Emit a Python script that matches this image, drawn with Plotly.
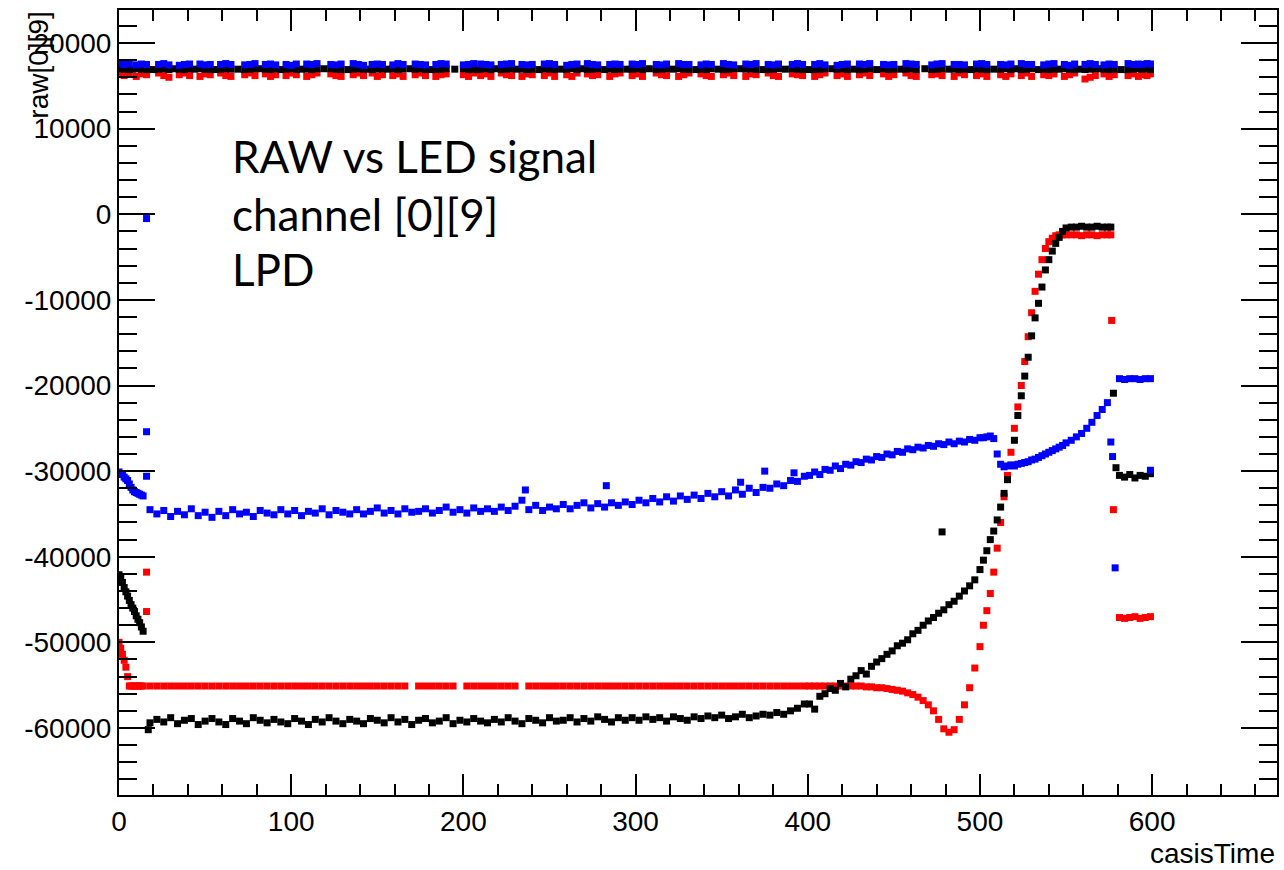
import plotly.graph_objects as go

# ---------------- data ----------------
# LED-pulse "high" band: time stamps shared by the three series (3 per pulse)
time_top = [0, 3, 6, 10, 13, 16, 23, 26, 29, 35, 38, 41, 47, 50, 53, 59, 62, 65, 73, 76, 79, 85, 88, 91,
            97, 100, 103, 109, 112, 115, 123, 126, 129, 136, 139, 142, 147, 150, 153, 159, 162, 165, 172, 175, 178, 184, 187, 190,
            200, 203, 206, 210, 213, 216, 222, 225, 228, 234, 237, 240, 247, 250, 253, 260, 263, 266, 272, 275, 278, 285, 288, 291,
            298, 301, 304, 312, 315, 318, 325, 328, 331, 338, 341, 344, 351, 354, 357, 364, 367, 370, 377, 380, 383, 391, 394, 397,
            404, 407, 410, 417, 420, 423, 430, 433, 436, 444, 447, 450, 457, 460, 463, 472, 475, 478, 485, 488, 491, 498, 501, 504,
            512, 515, 518, 524, 527, 530, 537, 540, 543, 549, 552, 555, 561, 564, 567, 572, 575, 578, 586, 589, 592, 594, 597, 599]
blue_top = [17600, 17500, 17550, 17450, 17550, 17500, 17500, 17600, 17450, 17400, 17500, 17550, 17550, 17450, 17500, 17500, 17600, 17500, 17450, 17500, 17600, 17500, 17550, 17450,
            17500, 17400, 17550, 17550, 17500, 17600, 17500, 17450, 17550, 17600, 17500, 17400, 17500, 17550, 17500, 17450, 17600, 17500, 17550, 17500, 17450, 17500, 17600, 17550,
            17450, 17500, 17600, 17550, 17500, 17450, 17500, 17550, 17600, 17500, 17450, 17500, 17550, 17600, 17500, 17400, 17500, 17550, 17600, 17500, 17450, 17500, 17550, 17500,
            17550, 17500, 17600, 17500, 17450, 17550, 17600, 17500, 17500, 17450, 17550, 17500, 17600, 17500, 17450, 17550, 17500, 17600, 17500, 17450, 17550, 17500, 17600, 17500,
            17500, 17600, 17450, 17400, 17500, 17550, 17550, 17500, 17600, 17500, 17450, 17500, 17600, 17550, 17500, 17450, 17550, 17600, 17500, 17500, 17450, 17550, 17600, 17500,
            17500, 17450, 17550, 17600, 17500, 17500, 17450, 17550, 17600, 17500, 17400, 17550, 17500, 17600, 17500, 17450, 17550, 17500, 17600, 17500, 17550, 17500, 17600, 17550]
black_top = [17000, 16950, 16900, 17000, 16950, 16900, 16950, 17000, 16900, 16950, 16900, 17000, 17000, 16950, 16900, 16950, 17000, 16950, 16900, 16950, 17000, 16950, 16900, 17000,
             16950, 17000, 16900, 16950, 16900, 17000, 17000, 16950, 16900, 16950, 17000, 16950, 16900, 16950, 17000, 17000, 16900, 16950, 16950, 17000, 16900, 16900, 16950, 17000,
             17000, 16900, 16950, 16950, 17000, 16900, 16900, 16950, 17000, 16950, 16900, 16950, 17000, 16950, 16900, 16950, 17000, 16900, 16900, 16950, 17000, 16950, 16900, 16950,
             16950, 17000, 16900, 16900, 16950, 17000, 17000, 16950, 16900, 16950, 16900, 17000, 16900, 16950, 17000, 16950, 17000, 16900, 16900, 16950, 17000, 17000, 16950, 16900,
             16900, 16950, 17000, 16950, 17000, 16900, 16900, 16950, 17000, 17000, 16900, 16950, 16950, 17000, 16900, 16900, 16950, 17000, 16950, 16900, 16950, 17000, 16950, 16900,
             16950, 17000, 16900, 16900, 16950, 17000, 16950, 16900, 16950, 17000, 16950, 16900, 16900, 16950, 17000, 16950, 16900, 16950, 16900, 16950, 17000, 16950, 17000, 16900]
red_top = [16400, 16200, 16500, 16100, 16400, 16300, 16500, 16200, 16000, 16300, 16500, 16200, 16100, 16400, 16300, 16500, 16200, 16100, 16300, 16500, 16200, 16400, 16100, 16300,
           16200, 16500, 16300, 16100, 16300, 16500, 16400, 16200, 16100, 16300, 16500, 16200, 16500, 16100, 16300, 16200, 16400, 16100, 16300, 16500, 16200, 16100, 16300, 16400,
           16300, 16100, 16500, 16200, 16400, 16100, 16500, 16300, 16200, 16100, 16400, 16300, 16200, 16500, 16100, 16300, 16100, 16500, 16400, 16200, 16300, 16100, 16400, 16500,
           16200, 16400, 16100, 16500, 16300, 16200, 16100, 16300, 16500, 16400, 16200, 16100, 16300, 16500, 16200, 16100, 16400, 16300, 16500, 16200, 16100, 16400, 16300, 16200,
           16100, 16300, 16500, 16200, 16400, 16100, 16300, 16500, 16200, 16400, 16100, 16300, 16500, 16200, 16100, 16300, 16400, 16200, 16100, 16500, 16300, 16200, 16400, 16100,
           16300, 16100, 16400, 16200, 16500, 16100, 16300, 16200, 16400, 16100, 16300, 16500, 15800, 16000, 16200, 16400, 16100, 16300, 16200, 16400, 16100, 16300, 16200, 16400]
# black high-state points that fill the gaps between pulses
black_gap_t = [8, 20, 32, 44, 56, 69, 82, 94, 106, 119,
               133, 145, 156, 169, 181, 195, 208, 219, 231, 244,
               257, 269, 282, 295, 308, 322, 335, 348, 361, 374,
               387, 401, 414, 427, 440, 454, 468, 482, 495, 508,
               521, 534, 546, 558, 570, 582]
black_gap_v = [16950, 16900, 17000, 16950, 16900, 16950, 17000, 16900, 16950, 17000,
               16900, 16950, 16950, 17000, 16900, 16950, 16900, 17000, 16950, 16900,
               16950, 17000, 16900, 16950, 17000, 16950, 16900, 16950, 17000, 16900,
               16950, 16900, 17000, 16950, 16900, 16950, 17000, 16950, 16900, 16950,
               17000, 16900, 16950, 16950, 17000, 16900]

# "low" state curves: time stamps shared by the three series
time_low = [0, 1, 2, 3, 4, 5, 6, 7, 8, 9, 10, 11, 12, 13, 14,
            18, 22, 26, 30, 34, 38, 42, 46, 50, 54,
            58, 62, 66, 70, 74, 78, 82, 86, 90, 94,
            98, 102, 106, 110, 114, 118, 122, 126, 130, 134,
            138, 142, 146, 150, 154, 158, 162, 166, 170, 174,
            178, 182, 186, 190, 194, 198, 202, 206, 210, 214,
            218, 222, 226, 230, 234, 238, 242, 246, 250, 254,
            258, 262, 266, 270, 274, 278, 282, 286, 290, 294,
            298, 302, 306, 310, 314, 318, 322, 326, 330, 334,
            338, 342, 346, 350, 354, 358, 362, 366, 370, 374,
            378, 382, 386, 390, 394, 398,
            401, 404, 407, 410, 413, 416, 419, 422, 425, 428,
            431, 434, 437, 440, 443, 446, 449, 452, 455, 458,
            461, 464, 467, 470, 473, 476, 479, 482, 485, 488,
            491, 494, 497, 500,
            502, 504, 506, 508, 510, 512, 514, 516, 518, 520,
            522, 524, 526, 528, 530, 532, 534, 536, 538, 540,
            542, 544, 546, 548, 550,
            553, 556, 559, 562, 565, 568, 571, 574,
            581, 584, 587, 590, 593, 596, 599]
black_low = [-42100, -42500, -43000, -43600, -44100, -44600, -45100, -45600, -46000, -46400, -46900, -47300, -47700, -48200, -48700,
             -59400, -59000, -59300, -58800, -59500, -59100, -58900, -59600, -59200, -58900,
             -59300, -59600, -58900, -59200, -59500, -58800, -59100, -59400, -59000, -59300,
             -59500, -58900, -59200, -59600, -59000, -59300, -58800, -59200, -59500, -59000,
             -59200, -59500, -58900, -59100, -59400, -58800, -59300, -59000, -59600, -59100,
             -58900, -59400, -59200, -58800, -59500, -59100, -59300, -58900, -59200, -59400,
             -59000, -59300, -58800, -59200, -59500, -58900, -59100, -59400, -58800, -59200,
             -59100, -58800, -59300, -58900, -59200, -58700, -59000, -59300, -58800, -59100,
             -58800, -59100, -58700, -59000, -58800, -59200, -58700, -58900, -59100, -58700,
             -58900, -58600, -58800, -58500, -58900, -58700, -58400, -58800, -58600, -58400,
             -58500, -58200, -58400, -58000, -57700, -57200,
             -57200, -57800, -56300, -56000, -55400, -55600, -54800, -55200, -54300, -53900,
             -53300, -53700, -52800, -52300, -51900, -51400, -51000, -50400, -50100, -49700,
             -49000, -48600, -48000, -47500, -47100, -46600, -46200, -45600, -45200, -44600,
             -44000, -43400, -42700, -41500,
             -40400, -39300, -38000, -37000, -35700, -34200, -32600, -31000, -29300, -26400,
             -23500, -21200, -18900, -16700, -14200, -12100, -10400, -8500, -6500, -5300,
             -4300, -3400, -2700, -2000, -1600,
             -1500, -1500, -1400, -1500, -1500, -1400, -1500, -1500,
             -30500, -30700, -30400, -30800, -30500, -30600, -30300]
red_low = [-50000, -50700, -51400, -52100, -52900, -54000, -55100, -55100, -55100, -55100, -55100, -55100, -55100, -55100, -55100,
           -55100, -55100, -55100, -55100, -55100, -55100, -55100, -55100, -55100, -55100,
           -55100, -55100, -55100, -55100, -55100, -55100, -55100, -55100, -55100, -55100,
           -55100, -55100, -55100, -55100, -55100, -55100, -55100, -55100, -55100, -55100,
           -55100, -55100, -55100, -55100, -55100, -55100, -55100, -55100, None, -55100,
           -55100, -55100, -55100, -55100, -55100, None, -55100, -55100, -55100, -55100,
           -55100, -55100, -55100, -55100, None, -55100, -55100, -55100, -55100, -55100,
           -55100, -55100, -55100, -55100, -55100, -55100, -55100, -55100, -55100, -55100,
           -55100, -55100, -55100, -55100, -55100, -55100, -55100, -55100, -55100, -55100,
           -55100, -55100, -55100, -55100, -55100, -55100, -55100, -55100, -55100, -55100,
           -55100, -55100, -55100, -55100, -55100, -55100,
           -55100, -55100, -55100, -55100, -55100, -55100, -55100, -55100, -55100, -55100,
           -55100, -55200, -55200, -55300, -55300, -55400, -55500, -55600, -55700, -55900,
           -56100, -56400, -56800, -57300, -58000, -59000, -60100, -60500, -60200, -59000,
           -57300, -55300, -53000, -50500,
           -48000, -46300, -44300, -41800, -39000, -36000, -33000, -30500, -27800, -25000,
           -22500, -20000, -17200, -14300, -11500, -9000, -7000, -5300, -4000, -3200,
           -2800, -2500, -2400, -2400, -2400,
           -2400, -2400, -2500, -2400, -2400, -2500, -2400, -2400,
           -47100, -47200, -47100, -47000, -47200, -47100, -47000]
blue_low = [-30100, -30300, -30400, -30700, -30900, -31100, -31500, -31900, -32200, -32400, -32500, -32600, -32700, -32800, -32900,
            -34500, -35000, -34600, -35300, -34700, -35100, -34400, -35200, -34800, -35400,
            -34700, -35200, -34500, -35000, -34800, -35300, -34600, -34900, -35100, -34500,
            -35000, -34600, -35200, -34700, -34900, -34400, -35100, -34600, -34800, -35000,
            -34500, -35000, -34700, -34300, -34900, -34600, -35000, -34400, -34800, -34700,
            -34400, -34900, -34600, -34200, -34800, -34500, -34900, -34300, -34700, -34400,
            -34700, -34200, -34600, -34100, -33400, -34500, -34000, -34600, -34200, -34400,
            -33900, -34400, -34000, -33700, -34300, -33800, -34200, -33700, -34000, -33600,
            -33900, -33400, -33700, -33200, -33600, -33000, -33500, -32900, -33300, -32800,
            -33200, -32600, -33000, -32400, -32900, -32200, -32700, -32000, -32500, -31900,
            -32000, -31500, -31700, -31100, -31200, -30600,
            -30500, -30100, -30400, -29800, -29900, -29400, -29700, -29200, -29300, -28900,
            -29000, -28600, -28700, -28300, -28400, -28000, -28100, -27700, -27800, -27400,
            -27500, -27200, -27300, -27000, -27100, -26800, -26900, -26600, -26800, -26500,
            -26600, -26300, -26400, -26100,
            -26100, -26000, -25900, -26200, -28000, -29200, -29500, -29400, -29300, -29400,
            -29200, -29100, -29000, -28900, -28700, -28600, -28400, -28200, -28000, -27800,
            -27600, -27400, -27200, -27000, -26700,
            -26400, -26000, -25600, -25000, -24300, -23500, -22800, -22000,
            -19200, -19300, -19200, -19200, -19300, -19200, -19200]

# isolated points / transitions
black_extra_t = [17, 478, 576, 577.5, 579] + black_gap_t
black_extra_v = [-60200, -37100, -1500, -20900, -29600] + black_gap_v
red_extra_t = [16, 16, 576, 576.5, 577.5]
red_extra_v = [-41800, -46400, -2400, -12400, -34500]
blue_extra_t = [16, 16, 16, 236, 283, 361, 375, 392, 576, 577, 578.5, 599]
blue_extra_v = [-500, -25400, -30600, -32200, -31700, -31300, -30000, -30200, -26600, -28300, -41300, -29900]

x_tick_vals = [0, 100, 200, 300, 400, 500, 600]
x_tick_text = ["0", "100", "200", "300", "400", "500", "600"]
y_tick_vals = [-60000, -50000, -40000, -30000, -20000, -10000, 0, 10000, 20000]
y_tick_text = ["-60000", "-50000", "-40000", "-30000", "-20000", "-10000", "0", "10000", "20000"]

legend_lines = ["RAW vs LED signal", "channel [0][9]", "LPD"]

# ---------------- figure ----------------
W, H = 1284, 870
ML, MR, MT, MB = 119, 5, 10, 75
PW, PH = W - ML - MR, H - MT - MB


def px_x(p):
    return (p - ML) / PW


def px_y(p):
    return (H - MB - p) / PH


series = [
    ("#ff0000", red_top, red_low, red_extra_t, red_extra_v),
    ("#000000", black_top, black_low, black_extra_t, black_extra_v),
    ("#0000ff", blue_top, blue_low, blue_extra_t, blue_extra_v),
]

fig = go.Figure()
for color, top_v, low_v, ex_t, ex_v in series:
    fig.add_trace(go.Scatter(
        x=time_low + time_top + ex_t,
        y=low_v + top_v + ex_v,
        mode="markers",
        marker=dict(symbol="square", size=7, color=color, line=dict(width=0)),
        hoverinfo="skip",
    ))

axis_common = dict(
    ticks="inside", tickcolor="black", tickwidth=1.5,
    showline=True, linecolor="black", linewidth=2, mirror="allticks",
    showgrid=False, zeroline=False, tickmode="array",
    tickfont=dict(family="Liberation Sans", size=28, color="black"),
)
fig.update_xaxes(range=[0, 672.5], tickvals=x_tick_vals, ticktext=x_tick_text, ticklen=21,
                 minor=dict(ticks="inside", ticklen=11, tickwidth=1.5, tickcolor="black",
                            tickmode="linear", tick0=0, dtick=20, showgrid=False),
                 **axis_common)
fig.update_yaxes(range=[-67830, 23860], tickvals=y_tick_vals, ticktext=y_tick_text, ticklen=36,
                 minor=dict(ticks="inside", ticklen=18, tickwidth=1.5, tickcolor="black",
                            tickmode="linear", tick0=0, dtick=2000, showgrid=False),
                 **axis_common)

annotations = [
    dict(text="casisTime", xref="paper", yref="paper", x=1.0, y=px_y(853),
         xanchor="right", yanchor="middle", showarrow=False,
         font=dict(family="Liberation Sans", size=28, color="black")),
    dict(text="raw[0][9]", xref="paper", yref="paper", x=px_x(38), y=1.0,
         xanchor="center", yanchor="top", textangle=-90, showarrow=False,
         font=dict(family="Liberation Sans", size=28, color="black")),
]
for line, py in zip(legend_lines, [156, 214, 269]):
    annotations.append(dict(text=line, xref="paper", yref="paper", x=px_x(230), y=px_y(py),
                            xanchor="left", yanchor="middle", showarrow=False,
                            font=dict(family="Lato", size=44, color="black")))

fig.update_layout(
    width=W, height=H,
    margin=dict(l=ML, r=MR, t=MT, b=MB, pad=0),
    plot_bgcolor="white", paper_bgcolor="white",
    showlegend=False,
    annotations=annotations,
)

fig.write_html("out.html", config={"displayModeBar": False},
               post_script="document.body.style.margin='0';document.body.style.overflow='hidden';")
